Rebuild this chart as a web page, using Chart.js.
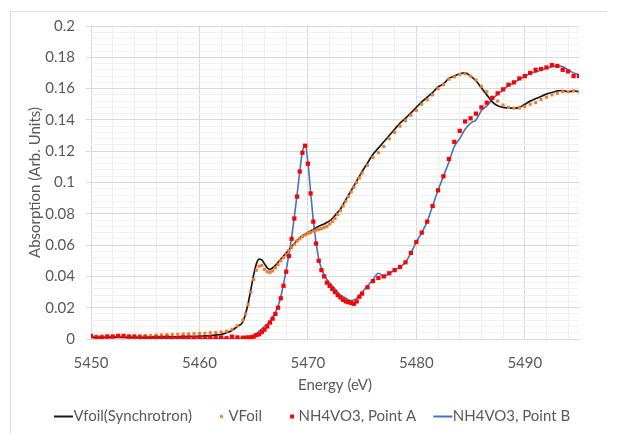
<!DOCTYPE html>
<html>
<head>
<meta charset="utf-8">
<title>V K-edge absorption</title>
<script src="https://cdn.jsdelivr.net/npm/chart.js@4.4.0/dist/chart.umd.min.js"></script>
<style>
    html, body { margin: 0; padding: 0; background: #fff; }
    #wrap { position: relative; width: 622px; height: 434px; overflow: hidden; }
    #frame {
        position: absolute; left: 10px; top: 11px; width: 596px; height: 430px;
        border-top: 1px solid #dcdcdc; border-left: 1px solid #dcdcdc;
    }
    #absChart { position: absolute; left: 0; top: 0; }
</style>
</head>
<body>
<div id="wrap">
    <div id="frame"></div>
    <canvas id="absChart" width="622" height="434"></canvas>
</div>
<script>
(function () {
    "use strict";

    // photon energy (eV), shared by all four series
    var energy = [
        5450, 5450.5, 5451, 5451.5, 5452, 5452.5, 5453, 5453.5, 5454, 5454.5,
        5455, 5455.5, 5456, 5456.5, 5457, 5457.5, 5458, 5458.5, 5459, 5459.5,
        5460, 5460.5, 5461, 5461.5, 5462, 5462.5, 5463, 5463.5, 5464,
        5464.25, 5464.5, 5464.75, 5465, 5465.25, 5465.5, 5465.75, 5466, 5466.25, 5466.5,
        5466.75, 5467, 5467.25, 5467.5, 5467.75, 5468, 5468.25, 5468.5, 5468.75, 5469,
        5469.25, 5469.5, 5469.75, 5470, 5470.25, 5470.5, 5470.75, 5471, 5471.25, 5471.5,
        5471.75, 5472, 5472.25, 5472.5, 5472.75, 5473, 5473.25, 5473.5, 5473.75, 5474,
        5474.25, 5474.5, 5474.75,
        5475, 5475.5, 5476, 5476.5, 5477, 5477.5, 5478, 5478.5, 5479, 5479.5,
        5480, 5480.5, 5481, 5481.5, 5482, 5482.5, 5483, 5483.5, 5484, 5484.5,
        5485, 5485.5, 5486, 5486.5, 5487, 5487.5, 5488, 5488.5, 5489, 5489.5,
        5490, 5490.5, 5491, 5491.5, 5492, 5492.5, 5493, 5493.5, 5494, 5494.5, 5495
    ];

    var vfoilSynchrotron = [
        0.001, 0.001, 0.0012, 0.001, 0.0012, 0.001, 0.0011, 0.001, 0.001, 0.0011,
        0.001, 0.0012, 0.0012, 0.0013, 0.0013, 0.0014, 0.0015, 0.0015, 0.0016, 0.0017,
        0.0018, 0.002, 0.0021, 0.0025, 0.003, 0.004, 0.0055, 0.008, 0.011,
        0.016, 0.023, 0.032, 0.041, 0.048, 0.051, 0.0505, 0.048, 0.0455, 0.0445,
        0.0455, 0.047, 0.049, 0.051, 0.053, 0.055, 0.057, 0.059, 0.061, 0.063,
        0.0645, 0.066, 0.067, 0.068, 0.069, 0.070, 0.071, 0.072, 0.0728, 0.0735,
        0.0745, 0.0755, 0.077, 0.079, 0.081, 0.083, 0.086, 0.089, 0.092, 0.095,
        0.098, 0.101, 0.104,
        0.107, 0.1125, 0.118, 0.122, 0.126, 0.130, 0.134, 0.138, 0.141, 0.1445,
        0.148, 0.1515, 0.1545, 0.1575, 0.161, 0.163, 0.1665, 0.168, 0.1695, 0.170,
        0.168, 0.165, 0.1605, 0.156, 0.1515, 0.149, 0.148, 0.1475, 0.1475, 0.148,
        0.150, 0.152, 0.1535, 0.155, 0.1565, 0.1575, 0.1585, 0.1588, 0.158, 0.1585, 0.158
    ];

    var vfoil = [
        0.002, 0.0018, 0.002, 0.0021, 0.002, 0.0022, 0.0022, 0.002, 0.002, 0.0022,
        0.0022, 0.0023, 0.0025, 0.0026, 0.0028, 0.0029, 0.003, 0.0031, 0.0032, 0.0034,
        0.0035, 0.0037, 0.004, 0.0042, 0.0045, 0.005, 0.0062, 0.0085, 0.012,
        0.016, 0.022, 0.030, 0.038, 0.044, 0.0465, 0.047, 0.0445, 0.043, 0.0425,
        0.0435, 0.0455, 0.0475, 0.050, 0.052, 0.054, 0.0565, 0.0585, 0.0605, 0.0625,
        0.064, 0.0655, 0.0665, 0.0675, 0.068, 0.069, 0.0695, 0.070, 0.0705, 0.0713,
        0.072, 0.0735, 0.075, 0.077, 0.0795, 0.082, 0.085, 0.088, 0.091, 0.094,
        0.097, 0.100, 0.103,
        0.106, 0.111, 0.116, 0.119, 0.123, 0.128, 0.132, 0.136, 0.1395, 0.143,
        0.146, 0.150, 0.153, 0.156, 0.160, 0.1625, 0.166, 0.1675, 0.169, 0.1695,
        0.168, 0.1655, 0.1615, 0.158, 0.1545, 0.152, 0.1495, 0.148, 0.1475, 0.1475,
        0.1485, 0.150, 0.151, 0.153, 0.1545, 0.156, 0.157, 0.158, 0.158, 0.1585, 0.158
    ];

    var pointA = [
        0.002, 0.001, 0.001, 0.0015, 0.0015, 0.002, 0.002, 0.0015, 0.0015, 0.001,
        0.001, 0.0005, 0.001, 0.0008, 0.001, 0.0006, 0.0005, 0.001, 0.001, 0.0006,
        0.0005, 0.0008, 0.001, 0.0005, 0.001, 0.0005, 0.0015, 0.001, 0.0008,
        0.0008, 0.001, 0.001, 0.0015, 0.0025, 0.003, 0.0045, 0.006, 0.008, 0.0105,
        0.013, 0.016, 0.020, 0.026, 0.034, 0.043, 0.053, 0.064, 0.077, 0.091,
        0.107, 0.119, 0.1235, 0.112, 0.093, 0.075, 0.061, 0.050, 0.044, 0.040,
        0.036, 0.034, 0.032, 0.030, 0.028, 0.0265, 0.025, 0.024, 0.0235, 0.023,
        0.0225, 0.024, 0.027,
        0.029, 0.033, 0.037, 0.039, 0.040, 0.042, 0.044, 0.046, 0.049, 0.055,
        0.062, 0.068, 0.075, 0.085, 0.095, 0.104, 0.115, 0.126, 0.133, 0.139,
        0.141, 0.144, 0.148, 0.151, 0.154, 0.157, 0.1595, 0.1625, 0.164, 0.1665,
        0.168, 0.170, 0.172, 0.1725, 0.1735, 0.175, 0.1745, 0.172, 0.171, 0.168, 0.168
    ];

    var pointB = [
        0.001, 0.0008, 0.0008, 0.001, 0.0012, 0.0012, 0.001, 0.001, 0.0008, 0.0008,
        0.0006, 0.0006, 0.0005, 0.0005, 0.0005, 0.0004, 0.0004, 0.0005, 0.0004, 0.0003,
        0.0003, 0.0004, 0.0003, 0.0003, 0.0002, 0.0002, 0.0002, 0.0003, 0.0004,
        0.0005, 0.001, 0.0015, 0.0025, 0.0035, 0.005, 0.0065, 0.008, 0.0095, 0.0115,
        0.014, 0.017, 0.021, 0.027, 0.035, 0.044, 0.054, 0.065, 0.078, 0.092,
        0.107, 0.120, 0.124, 0.113, 0.094, 0.076, 0.062, 0.051, 0.045, 0.041,
        0.038, 0.036, 0.034, 0.032, 0.030, 0.028, 0.027, 0.026, 0.025, 0.0245,
        0.025, 0.026, 0.028,
        0.030, 0.034, 0.038, 0.042, 0.040, 0.042, 0.044, 0.046, 0.049, 0.055,
        0.062, 0.068, 0.075, 0.085, 0.095, 0.104, 0.113, 0.123, 0.128, 0.134,
        0.138, 0.140, 0.146, 0.149, 0.153, 0.1565, 0.159, 0.162, 0.1635, 0.166,
        0.1675, 0.170, 0.1705, 0.172, 0.173, 0.174, 0.1745, 0.174, 0.172, 0.170, 0.169
    ];

    var xTickLabels = [5450, 5460, 5470, 5480, 5490];
    var yTickLabels = [0, 0.02, 0.04, 0.06, 0.08, 0.1, 0.12, 0.14, 0.16, 0.18, 0.2];

    var textColor = "#595959";
    var fontFamily = "Lato, 'Open Sans', sans-serif";
    var fontSize = 15;

    function pairs(values) {
        return energy.map(function (e, i) {
            return { x: e, y: values[i] };
        });
    }

    function isLabelled(list, v) {
        for (var i = 0; i < list.length; i++) {
            if (Math.abs(list[i] - v) < 1e-9) return true;
        }
        return false;
    }

    // little legend swatches, the line ones run right up to the text
    function swatch(kind, color, size) {
        var c = document.createElement("canvas");
        c.width = 30;
        c.height = 8;
        var g = c.getContext("2d");
        g.fillStyle = color;
        if (kind === "line") {
            g.fillRect(10, 3, 19, 2);
        } else {
            g.fillRect(Math.round(22.5 - size / 2), 4 - size / 2, size, size);
        }
        return c;
    }

    var swatches = [
        swatch("line", "#1a1a1a"),
        swatch("dot", "#ED7D31", 3),
        swatch("dot", "#FF0000", 4),
        swatch("line", "#4472C4")
    ];

    var ctx = document.getElementById("absChart");
    var absChart = new Chart(ctx, {
        type: "scatter",
        data: {
            datasets: [
                {
                    label: "Vfoil(Synchrotron)",
                    data: pairs(vfoilSynchrotron),
                    showLine: true,
                    borderColor: "#1a1a1a",
                    borderWidth: 1.7,
                    pointRadius: 0,
                    cubicInterpolationMode: "monotone",
                    order: 3,
                },
                {
                    label: "VFoil",
                    data: pairs(vfoil),
                    showLine: false,
                    pointStyle: "rect",
                    pointRadius: 2.2,
                    backgroundColor: "#ED7D31",
                    borderWidth: 0,
                    order: 2,
                },
                {
                    label: "NH4VO3, Point A",
                    data: pairs(pointA),
                    showLine: false,
                    pointStyle: "rect",
                    pointRadius: 3,
                    backgroundColor: "#FF0000",
                    borderWidth: 0,
                    order: 1,
                },
                {
                    label: "NH4VO3, Point B",
                    data: pairs(pointB),
                    showLine: true,
                    borderColor: "#4472C4",
                    borderWidth: 1.6,
                    pointRadius: 0,
                    cubicInterpolationMode: "monotone",
                    order: 4,
                },
            ],
        },
        options: {
            responsive: false,
            animation: false,
            devicePixelRatio: 1,
            layout: {
                padding: { top: 26, left: 0, right: 0, bottom: 0 },
            },
            plugins: {
                tooltip: { enabled: false },
                legend: {
                    position: "bottom",
                    labels: {
                        usePointStyle: true,
                        pointStyleWidth: 14,
                        padding: 15,
                        color: textColor,
                        font: { family: fontFamily, size: fontSize },
                        generateLabels: function (chart) {
                            return chart.data.datasets.map(function (ds, i) {
                                return {
                                    text: ds.label,
                                    pointStyle: swatches[i],
                                    fillStyle: "transparent",
                                    strokeStyle: "transparent",
                                    lineWidth: 0,
                                    fontColor: textColor,
                                    hidden: false,
                                    datasetIndex: i,
                                };
                            });
                        },
                    },
                },
            },
            scales: {
                x: {
                    type: "linear",
                    min: 5450,
                    max: 5495,
                    afterFit: function (scale) {
                        scale.height = 55;
                    },
                    border: { display: false },
                    grid: {
                        drawTicks: false,
                        color: function (c) {
                            if (!c.tick) return "#eeeeee";
                            return isLabelled(xTickLabels, c.tick.value) ? "#d9d9d9" : "#eeeeee";
                        },
                        lineWidth: 1,
                    },
                    ticks: {
                        stepSize: 2,
                        includeBounds: false,
                        autoSkip: false,
                        maxRotation: 0,
                        padding: 15,
                        color: textColor,
                        font: { family: fontFamily, size: fontSize },
                        callback: function (value) {
                            return isLabelled(xTickLabels, value) ? String(value) : "";
                        },
                    },
                    title: {
                        display: true,
                        text: "Energy (eV)",
                        color: textColor,
                        font: { family: fontFamily, size: fontSize },
                        padding: { top: 0, bottom: 0 },
                    },
                },
                y: {
                    type: "linear",
                    min: 0,
                    max: 0.2,
                    afterFit: function (scale) {
                        scale.width = 91;
                    },
                    border: { display: false },
                    grid: {
                        tickLength: 5,
                        color: function (c) {
                            if (!c.tick) return "#f0f0f0";
                            return isLabelled(yTickLabels, c.tick.value) ? "#d9d9d9" : "#f0f0f0";
                        },
                        tickColor: function (c) {
                            if (!c.tick) return "transparent";
                            return isLabelled(yTickLabels, c.tick.value) ? "#d9d9d9" : "transparent";
                        },
                    },
                    ticks: {
                        stepSize: 0.004,
                        autoSkip: false,
                        padding: 11,
                        color: textColor,
                        font: { family: fontFamily, size: fontSize },
                        callback: function (value) {
                            return isLabelled(yTickLabels, value) ? String(+value.toFixed(2)) : "";
                        },
                    },
                    title: {
                        display: true,
                        text: "Absorption (Arb. Units)",
                        color: textColor,
                        font: { family: fontFamily, size: fontSize },
                        padding: { top: 26, bottom: 0 },
                    },
                },
                // keeps the plot clear of the right edge while the legend spans the page
                spacer: {
                    type: "linear",
                    position: "right",
                    display: true,
                    afterFit: function (scale) {
                        scale.width = 43;
                    },
                    border: { display: false },
                    grid: { display: false, drawTicks: false },
                    ticks: { display: false },
                },
            },
        },
    });
})();
</script>
</body>
</html>
